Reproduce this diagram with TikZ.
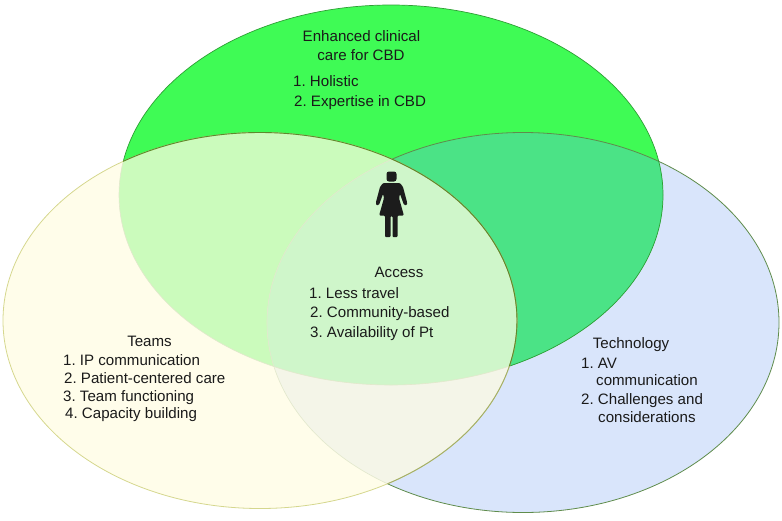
\documentclass[tikz,border=0pt]{standalone}
\usepackage{fontspec}
\setmainfont{Liberation Sans}
\usetikzlibrary{positioning}
\definecolor{clinicalgreen}{HTML}{3FFB55}
\definecolor{teamsyellow}{HTML}{FFFDEA}
\definecolor{techblue}{HTML}{D9E5FB}
\definecolor{clinicalteams}{HTML}{CBFBBC}
\definecolor{clinicaltech}{HTML}{4BE386}
\definecolor{teamstech}{HTML}{F4F5E8}
\definecolor{allthree}{HTML}{CFF6CA}
\definecolor{figureblack}{HTML}{1C1C1C}
\definecolor{labelblack}{HTML}{1A1A1A}
\definecolor{clinicalline}{HTML}{2E9E35}
\definecolor{techline}{HTML}{5F8C4C}
\definecolor{teamsline}{HTML}{D5D78E}
\definecolor{teamsdark}{HTML}{5C8A2C}
\definecolor{teamsmid}{HTML}{A3AE68}
\definecolor{fainteredge}{HTML}{E2E8CC}
\tikzset{
  label/.style={inner sep=0pt, anchor=base, text=labelblack, font=\fontsize{15.1}{18}\selectfont\frenchspacing},
  item/.style={label, anchor=base west},
}
\def\clinical{(391,195) ellipse [x radius=272, y radius=190]}
\def\teams{(260,320.5) ellipse [x radius=257, y radius=188]}
\def\tech{(523,322.5) ellipse [x radius=256, y radius=190]}
\begin{document}
\begin{tikzpicture}[x=1pt,y=-1pt]
   \useasboundingbox (0,0) rectangle (782,520);
   \fill[techblue] \tech;
   \fill[clinicalgreen] \clinical;
   \begin{scope}
     \clip \clinical;
     \fill[clinicaltech] \tech;
   \end{scope}
   \draw[techline, line width=0.8pt] \tech;
   \draw[clinicalline, line width=0.7pt] \clinical;
   % teams goes over the other two
   \fill[teamsyellow] \teams;
   \begin{scope}
     \clip \teams;
     \fill[clinicalteams] \clinical;
     \fill[teamstech] \tech;
     \clip \tech;
     \fill[allthree] \clinical;
   \end{scope}
   \begin{scope}
     \clip \teams;
     \draw[fainteredge, line width=0.6pt] \tech;
     \draw[fainteredge, line width=0.6pt] \clinical;
   \end{scope}
   \draw[teamsline, line width=0.8pt] \teams;
   \begin{scope}
     \clip \tech;
     \draw[teamsmid, line width=0.9pt] \teams;
   \end{scope}
   \begin{scope}
     \clip \clinical;
     \draw[teamsdark, line width=0.9pt] \teams;
   \end{scope}
   % woman
   \fill[figureblack, rounded corners=2.5pt] (386.5,171.5) rectangle (396.5,181.5);
   \fill[figureblack, rounded corners=1pt]
      (383,183) -- (400,183) -- (403,187) -- (407,202) -- (407,205) -- (404,205)
      -- (400,194) -- (399,198) -- (403.5,214) -- (403.5,215.5) -- (397.5,215.5) -- (397.5,237) -- (392.5,237)
      -- (392.5,216) -- (390.5,216) -- (390.5,237) -- (385,237) -- (385,215.5)
      -- (379.5,215.5) -- (379.5,214) -- (384,198) -- (383,194) -- (379,205) -- (376,205)
      -- (376,202) -- (380,187) -- cycle;
   % clinical care
   \node[label] (clinical1) at (361.5,41) {Enhanced clinical};
   \node[label] (clinical2) at (361,60) {care for CBD};
   \node[item] (holistic) at (293,86) {1. Holistic};
   \node[item] (expertise) at (294,106) {2. Expertise in CBD};
   % access
   \node[label] (access) at (399,277) {Access};
   \node[item] (travel) at (309,298) {1. Less travel};
   \node[item] (community) at (310,317) {2. Community-based};
   \node[item] (availability) at (310,337) {3. Availability of Pt};
   % teams
   \node[label] (teamstitle) at (149.5,346) {Teams};
   \node[item] (ip) at (63,365) {1. IP communication};
   \node[item] (patient) at (64,383) {2. Patient-centered care};
   \node[item] (functioning) at (63,401) {3. Team functioning};
   \node[item] (capacity) at (65,418) {4. Capacity building};
   % technology
   \node[label] (techtitle) at (631,348) {Technology};
   \node[item] (av) at (581,368) {1. AV};
   \node[item] (avcomm) at (596,385) {communication};
   \node[item] (challenges) at (581,404) {2. Challenges and};
   \node[item] (considerations) at (598,422) {considerations};
\end{tikzpicture}
\end{document}
